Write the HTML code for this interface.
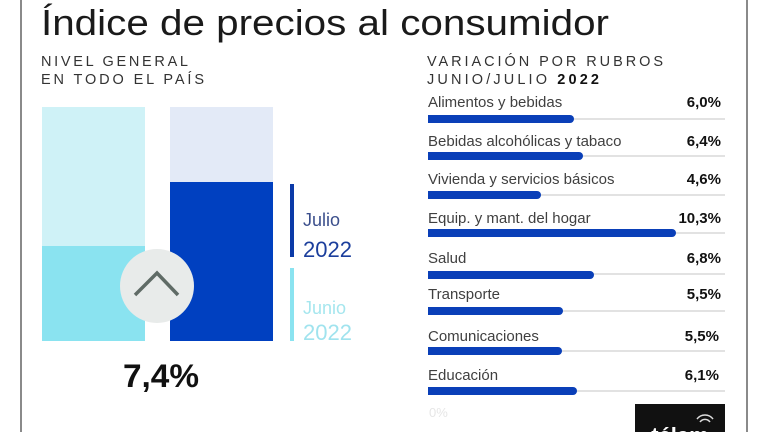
<!DOCTYPE html>
<html><head><meta charset="utf-8"><style>
html,body{margin:0;padding:0;background:#fff;}
svg{display:block;}
text{font-family:"Liberation Sans",sans-serif;}
</style></head><body>
<svg width="768" height="432" viewBox="0 0 768 432" xmlns="http://www.w3.org/2000/svg">
<rect width="768" height="432" fill="#fff"/>
<!-- frame lines -->
<rect x="20" y="0" width="2" height="432" fill="#8a8a8a"/>
<rect x="746" y="0" width="2" height="432" fill="#8a8a8a"/>
<!-- title -->
<text x="41" y="35" font-size="36" fill="#1a1a1a" textLength="568" lengthAdjust="spacingAndGlyphs">Índice de precios al consumidor</text>
<text x="41" y="66" font-size="14.5" fill="#333" textLength="147" lengthAdjust="spacing">NIVEL GENERAL</text>
<text x="41" y="84" font-size="14.5" fill="#333" textLength="163" lengthAdjust="spacing">EN TODO EL PAÍS</text>
<!-- left bars -->
<rect x="42" y="107" width="103" height="139" fill="#cff2f7"/>
<rect x="42" y="246" width="103" height="95" fill="#8ae3f0"/>
<rect x="170" y="107" width="103" height="75" fill="#e3eaf7"/>
<rect x="170" y="182" width="103" height="159" fill="#0040c0"/>
<circle cx="157" cy="286" r="37" fill="#e8ebea"/>
<polyline points="135,295 157,273 178,295" fill="none" stroke="#5f6b66" stroke-width="3.5"/>
<!-- legend -->
<rect x="290" y="184" width="4" height="73" fill="#0b3aa8"/>
<text x="303" y="226" font-size="18" fill="#3b4f8c">Julio</text>
<text x="303" y="257" font-size="22" fill="#1b3e9c">2022</text>
<rect x="290" y="268" width="4" height="73" fill="#8ae3f0"/>
<text x="303" y="314" font-size="18" fill="#a5e6ee">Junio</text>
<text x="303" y="340" font-size="22" fill="#a0e3ee">2022</text>
<!-- big value -->
<text x="123" y="387" font-size="32" font-weight="bold" fill="#111" textLength="76" lengthAdjust="spacingAndGlyphs">7,4%</text>
<!-- footer (clipped) -->
<text x="41" y="442" font-size="14" fill="#555">Fuente: INDEC Instituto Nacional de Estadística y Censos</text>
<!-- right section -->
<text x="427" y="66" font-size="14.5" fill="#333" textLength="236" lengthAdjust="spacing">VARIACIÓN POR RUBROS</text>
<text x="427" y="84" font-size="14.5" fill="#333" textLength="172" lengthAdjust="spacing">JUNIO/JULIO <tspan font-weight="bold" fill="#111">2022</tspan></text>

<g font-size="15" fill="#404040">
<text x="428" y="107">Alimentos y bebidas</text>
<text x="428" y="146">Bebidas alcohólicas y tabaco</text>
<text x="428" y="184">Vivienda y servicios básicos</text>
<text x="428" y="223">Equip. y mant. del hogar</text>
<text x="428" y="263">Salud</text>
<text x="428" y="299">Transporte</text>
<text x="428" y="341">Comunicaciones</text>
<text x="428" y="380">Educación</text>
</g>
<g font-size="15" font-weight="bold" fill="#111" text-anchor="end">
<text x="721" y="107">6,0%</text>
<text x="721" y="146">6,4%</text>
<text x="721" y="184">4,6%</text>
<text x="721" y="223">10,3%</text>
<text x="721" y="263">6,8%</text>
<text x="721" y="299">5,5%</text>
<text x="719" y="341">5,5%</text>
<text x="719" y="380">6,1%</text>
</g>
<g fill="#e2e2e2">
<rect x="428" y="118" width="297" height="2"/>
<rect x="428" y="155" width="297" height="2"/>
<rect x="428" y="194" width="297" height="2"/>
<rect x="428" y="232" width="297" height="2"/>
<rect x="428" y="273" width="297" height="2"/>
<rect x="428" y="310" width="297" height="2"/>
<rect x="428" y="350" width="297" height="2"/>
<rect x="428" y="390" width="297" height="2"/>
</g>
<g fill="#0a3fb8">
<path d="M428 115 H570 a4 4 0 0 1 0 8 H428 Z"/>
<path d="M428 152 H579 a4 4 0 0 1 0 8 H428 Z"/>
<path d="M428 191 H537 a4 4 0 0 1 0 8 H428 Z"/>
<path d="M428 229 H672 a4 4 0 0 1 0 8 H428 Z"/>
<path d="M428 271 H590 a4 4 0 0 1 0 8 H428 Z"/>
<path d="M428 307 H559 a4 4 0 0 1 0 8 H428 Z"/>
<path d="M428 347 H558 a4 4 0 0 1 0 8 H428 Z"/>
<path d="M428 387 H573 a4 4 0 0 1 0 8 H428 Z"/>
</g>
<text x="429" y="417" font-size="13" fill="#e6e6e6">0%</text>
<!-- telam logo -->
<rect x="635" y="404" width="90" height="30" fill="#111"/>
<text x="680" y="443" font-size="22" font-weight="bold" fill="#fff" text-anchor="middle">télam</text>
<g fill="none" stroke="#ddd" stroke-width="1.5">
<path d="M700 422 a6 6 0 0 1 10 0"/>
<path d="M697 419 a10 10 0 0 1 16 0"/>
</g>
</svg>
</body></html>
